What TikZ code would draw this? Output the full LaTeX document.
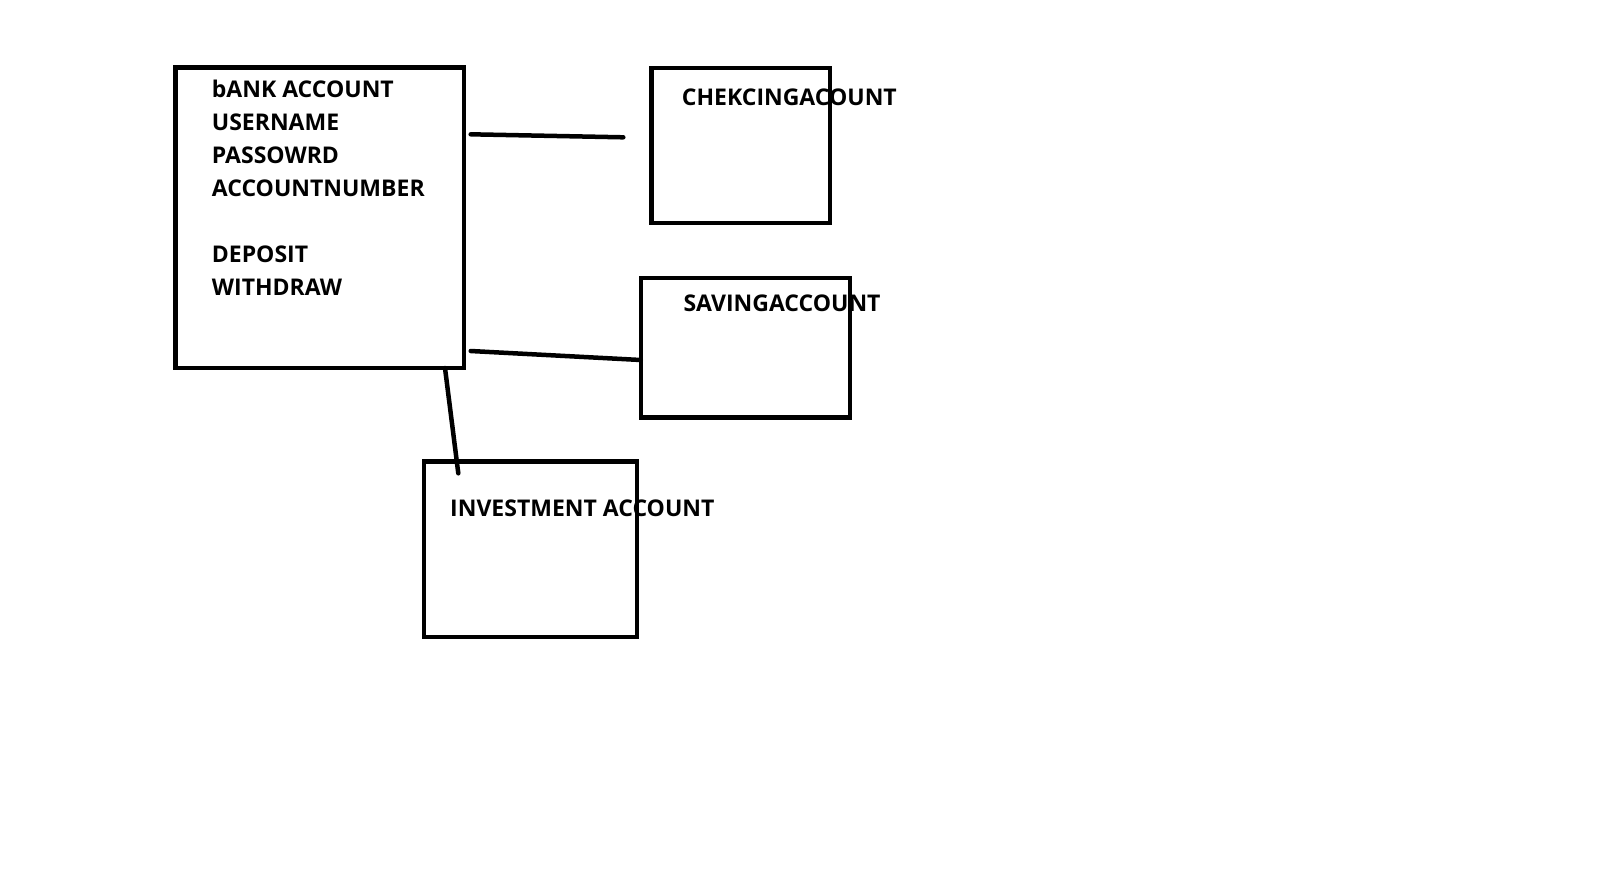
\documentclass[tikz,border=0pt]{standalone}
\usepackage{fontspec}
\setmainfont{Open Sans}
\usetikzlibrary{positioning}

\tikzset{
    acct/.style={draw, line width=4.5pt, inner sep=0pt, outer sep=0pt},
    acctlabel/.style={inner sep=0pt, anchor=base west, font=\bfseries\fontsize{23}{33}\selectfont},
    link/.style={line width=4.5pt, line cap=round}
}

\begin{document}
\begin{tikzpicture}[x=1pt, y=-1pt]
    \useasboundingbox (0,0) rectangle (1602,879);
    %
    \node[acct, minimum width=288.5pt, minimum height=300.5pt] (bank) at (319.75,217.75) {};
    \node[acctlabel, align=left] (banktext) at (211.7,295) {bANK ACCOUNT\\USERNAME\\PASSOWRD\\ACCOUNTNUMBER\\[33pt]DEPOSIT\\WITHDRAW};
    %
    \node[acct, minimum width=178.3pt, minimum height=155pt] (checking) at (740.85,145.5) {};
    \node[acctlabel] (checkingtext) at (681.7,105.7) {CHEKCINGACOUNT};
    %
    \node[acct, minimum width=209.2pt, minimum height=139.5pt] (saving) at (745.4,347.75) {};
    \node[acctlabel] (savingtext) at (683.3,311.7) {SAVINGACCOUNT};
    %
    \node[acct, minimum width=213.4pt, minimum height=175.5pt] (invest) at (530.5,549.45) {};
    \node[acctlabel] (investtext) at (450,516) {INVESTMENT ACCOUNT};
    %
    \coordinate[right=6.7pt of bank.north east] (c1);
    \coordinate (c1a) at ([yshift=-66.8pt]c1);
    \coordinate (c1b) at ([xshift=-28.4pt,yshift=-69.3pt]checking.north west);
    \draw[link] (c1a) -- (c1b);
    %
    \coordinate (c2a) at ([xshift=6.7pt,yshift=-283.5pt]bank.north east);
    \draw[link] (c2a) -- ([yshift=-12.25pt]saving.west);
    %
    \coordinate (c3a) at ([xshift=-19pt]bank.south east);
    \coordinate (c3b) at ([xshift=34.5pt,yshift=-11.6pt]invest.north west);
    \draw[link] (c3a) -- (c3b);
\end{tikzpicture}
\end{document}
